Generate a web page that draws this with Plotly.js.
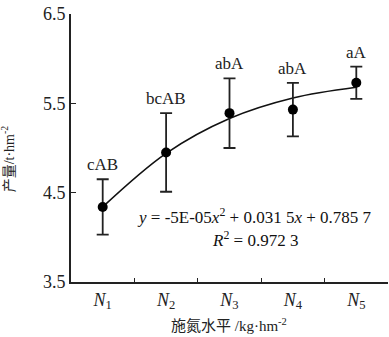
<!DOCTYPE html>
<html><head><meta charset="utf-8">
<script src="https://cdn.plot.ly/plotly-3.0.1.min.js"></script>
<style>body{margin:0;background:#fff}#c{width:389px;height:337px}</style>
</head><body><div id="c"></div>
<script>
var categories = ["<i>N</i><sub>1</sub>","<i>N</i><sub>2</sub>","<i>N</i><sub>3</sub>","<i>N</i><sub>4</sub>","<i>N</i><sub>5</sub>"];
var yieldMean = [4.34, 4.95, 5.39, 5.43, 5.73];
var yieldErr = [0.31, 0.44, 0.39, 0.30, 0.18];
var sigLabels = ["cAB", "bcAB", "abA", "abA", "aA"];
var trendValues = [4.34, 4.94, 5.33, 5.56, 5.68];
var yTicks = [3.5, 4.5, 5.5, 6.5];
var yTickText = ["3.5", "4.5", "5.5", "6.5"];

var serif = "Liberation Serif, Times New Roman, serif";
var cjk = "Liberation Serif, Noto Sans CJK SC, serif";
var traces = [
  {x: categories, y: trendValues, type: "scatter", mode: "lines",
   line: {color: "#111", width: 1.6, shape: "spline"}, hoverinfo: "skip"},
  {x: categories, y: yieldMean, type: "scatter", mode: "markers",
   marker: {color: "#000", size: 10},
   error_y: {type: "data", array: yieldErr, visible: true, color: "#222", thickness: 1.8, width: 6}}
];
var annotations = sigLabels.map(function(t, i){
  return {x: categories[i], y: yieldMean[i] + yieldErr[i], text: t, showarrow: false,
    yanchor: "bottom", yshift: 3, font: {family: serif, size: 17, color: "#222"}};
});
annotations.push({xref: "paper", yref: "paper", x: 0.579, y: 0.196, text: "<i>y</i> = -5E-05<i>x</i><sup>2</sup> + 0.031 5<i>x</i> + 0.785 7",
  showarrow: false, font: {family: serif, size: 17, color: "#111"}});
annotations.push({xref: "paper", yref: "paper", x: 0.579, y: 0.112, text: "<i>R</i><sup>2</sup> = 0.972 3",
  showarrow: false, font: {family: serif, size: 17, color: "#111"}});
annotations.push({xref: "paper", yref: "paper", x: -0.2, y: 0.46, xanchor: "center", yanchor: "middle",
  text: "产量/t·hm<sup>-2</sup>", textangle: -90, showarrow: false,
  font: {family: cjk, size: 14, color: "#222"}});
annotations.push({xref: "paper", yref: "paper", x: 0.497, y: -0.16, xanchor: "center", yanchor: "middle",
  text: "施氮水平 /kg·hm<sup>-2</sup>", showarrow: false,
  font: {family: cjk, size: 15, color: "#222"}});

var layout = {
  width: 389, height: 337,
  margin: {l: 71, r: 1, t: 14, b: 55},
  paper_bgcolor: "#fff", plot_bgcolor: "#fff",
  showlegend: false,
  font: {family: serif, size: 15, color: "#222"},
  xaxis: {type: "category", range: [-0.5, 4.5], tickson: "boundaries", ticks: "inside", ticklen: 4,
    tickcolor: "#222", tickwidth: 1, showline: true, linecolor: "#222", linewidth: 2,
    showgrid: false, zeroline: false, fixedrange: true,
    tickfont: {family: serif, size: 18, color: "#222"}},
  yaxis: {range: [3.5, 6.5], tickvals: yTicks, ticktext: yTickText, ticks: "inside", ticklen: 5,
    tickcolor: "#222", tickwidth: 1.5, showline: true, linecolor: "#222", linewidth: 2,
    showgrid: false, zeroline: false, fixedrange: true,
    tickfont: {family: serif, size: 18, color: "#222"}},
  annotations: annotations
};
Plotly.newPlot("c", traces, layout, {displayModeBar: false, staticPlot: true});
</script></body></html>
